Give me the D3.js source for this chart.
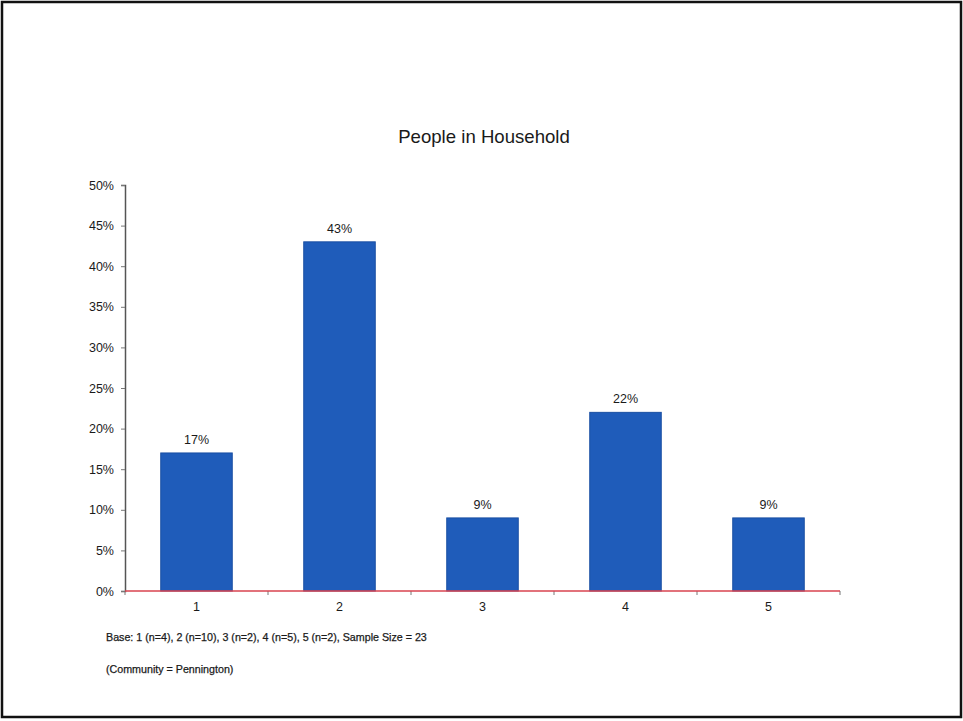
<!DOCTYPE html>
<html><head><meta charset="utf-8">
<script src="https://cdn.jsdelivr.net/npm/d3@7"></script>
<style>body{margin:0;background:#fff}svg{display:block}text{font-family:"Liberation Sans",Arial,sans-serif;fill:#1a1a1a}</style>
</head><body>
<script>
const categories = ["1","2","3","4","5"];
const values = [17, 43, 9, 22, 9];
const yTicks = [0,5,10,15,20,25,30,35,40,45,50];
const title = "People in Household";
const notes = ["Base: 1 (n=4), 2 (n=10), 3 (n=2), 4 (n=5), 5 (n=2), Sample Size = 23", "(Community = Pennington)"];

const W = 963, H = 721;
const svg = d3.select("body").append("svg").attr("width", W).attr("height", H);
svg.append("rect").attr("x",2).attr("y",2).attr("width",959).attr("height",715)
  .attr("fill","#fff").attr("stroke","#111").attr("stroke-width",2.5);

const x = d3.scaleBand().domain(categories).range([125, 840]).paddingInner(0.5).paddingOuter(0.25);
const y = d3.scaleLinear().domain([0, 50]).range([591, 185]);

svg.append("text").attr("x", 484).attr("y", 143).attr("text-anchor","middle")
  .attr("font-size", 18.6).text(title);

// y axis
const ya = svg.append("g").attr("transform","translate(125,0)")
  .call(d3.axisLeft(y).tickValues(yTicks).tickFormat(d => d + "%").tickSize(4).tickPadding(7));
ya.select(".domain").attr("stroke","#555").attr("stroke-width",1.5);
ya.selectAll(".tick line").attr("stroke","#777");
ya.selectAll("text").attr("font-size",12.5).attr("fill","#1a1a1a").attr("font-family",'"Liberation Sans",Arial,sans-serif');

// bars
svg.selectAll("rect.bar").data(values).enter().append("rect").attr("class","bar")
  .attr("x",(d,i)=>x(categories[i])).attr("width",x.bandwidth())
  .attr("y",d=>y(d)).attr("height",d=>y(0)-y(d))
  .attr("fill","#1f5cba").attr("stroke","#1a4fa3").attr("stroke-width",1);

// value labels
svg.selectAll("text.val").data(values).enter().append("text").attr("class","val")
  .attr("x",(d,i)=>x(categories[i])+x.bandwidth()/2).attr("y",d=>y(d)-9)
  .attr("text-anchor","middle").attr("font-size",12.5).text(d=>d+"%");

// x axis
const bounds = d3.range(categories.length+1).map(i => 125 + i*(715/categories.length));
svg.selectAll("line.xt").data(bounds).enter().append("line").attr("class","xt")
  .attr("x1",d=>d).attr("x2",d=>d).attr("y1",591).attr("y2",595).attr("stroke","#777");
svg.append("line").attr("x1",125).attr("x2",840).attr("y1",y(0)).attr("y2",y(0))
  .attr("stroke","#d9434f").attr("stroke-width",1.6);
svg.selectAll("text.cat").data(categories).enter().append("text").attr("class","cat")
  .attr("x",d=>x(d)+x.bandwidth()/2).attr("y",611).attr("text-anchor","middle")
  .attr("font-size",12.5).text(d=>d);

svg.selectAll("text.note").data(notes).enter().append("text").attr("class","note")
  .attr("x",106).attr("y",(d,i)=>641+i*32).attr("font-size",10.7)
  .attr("stroke","#1a1a1a").attr("stroke-width",0.25).text(d=>d);
</script>
</body></html>
